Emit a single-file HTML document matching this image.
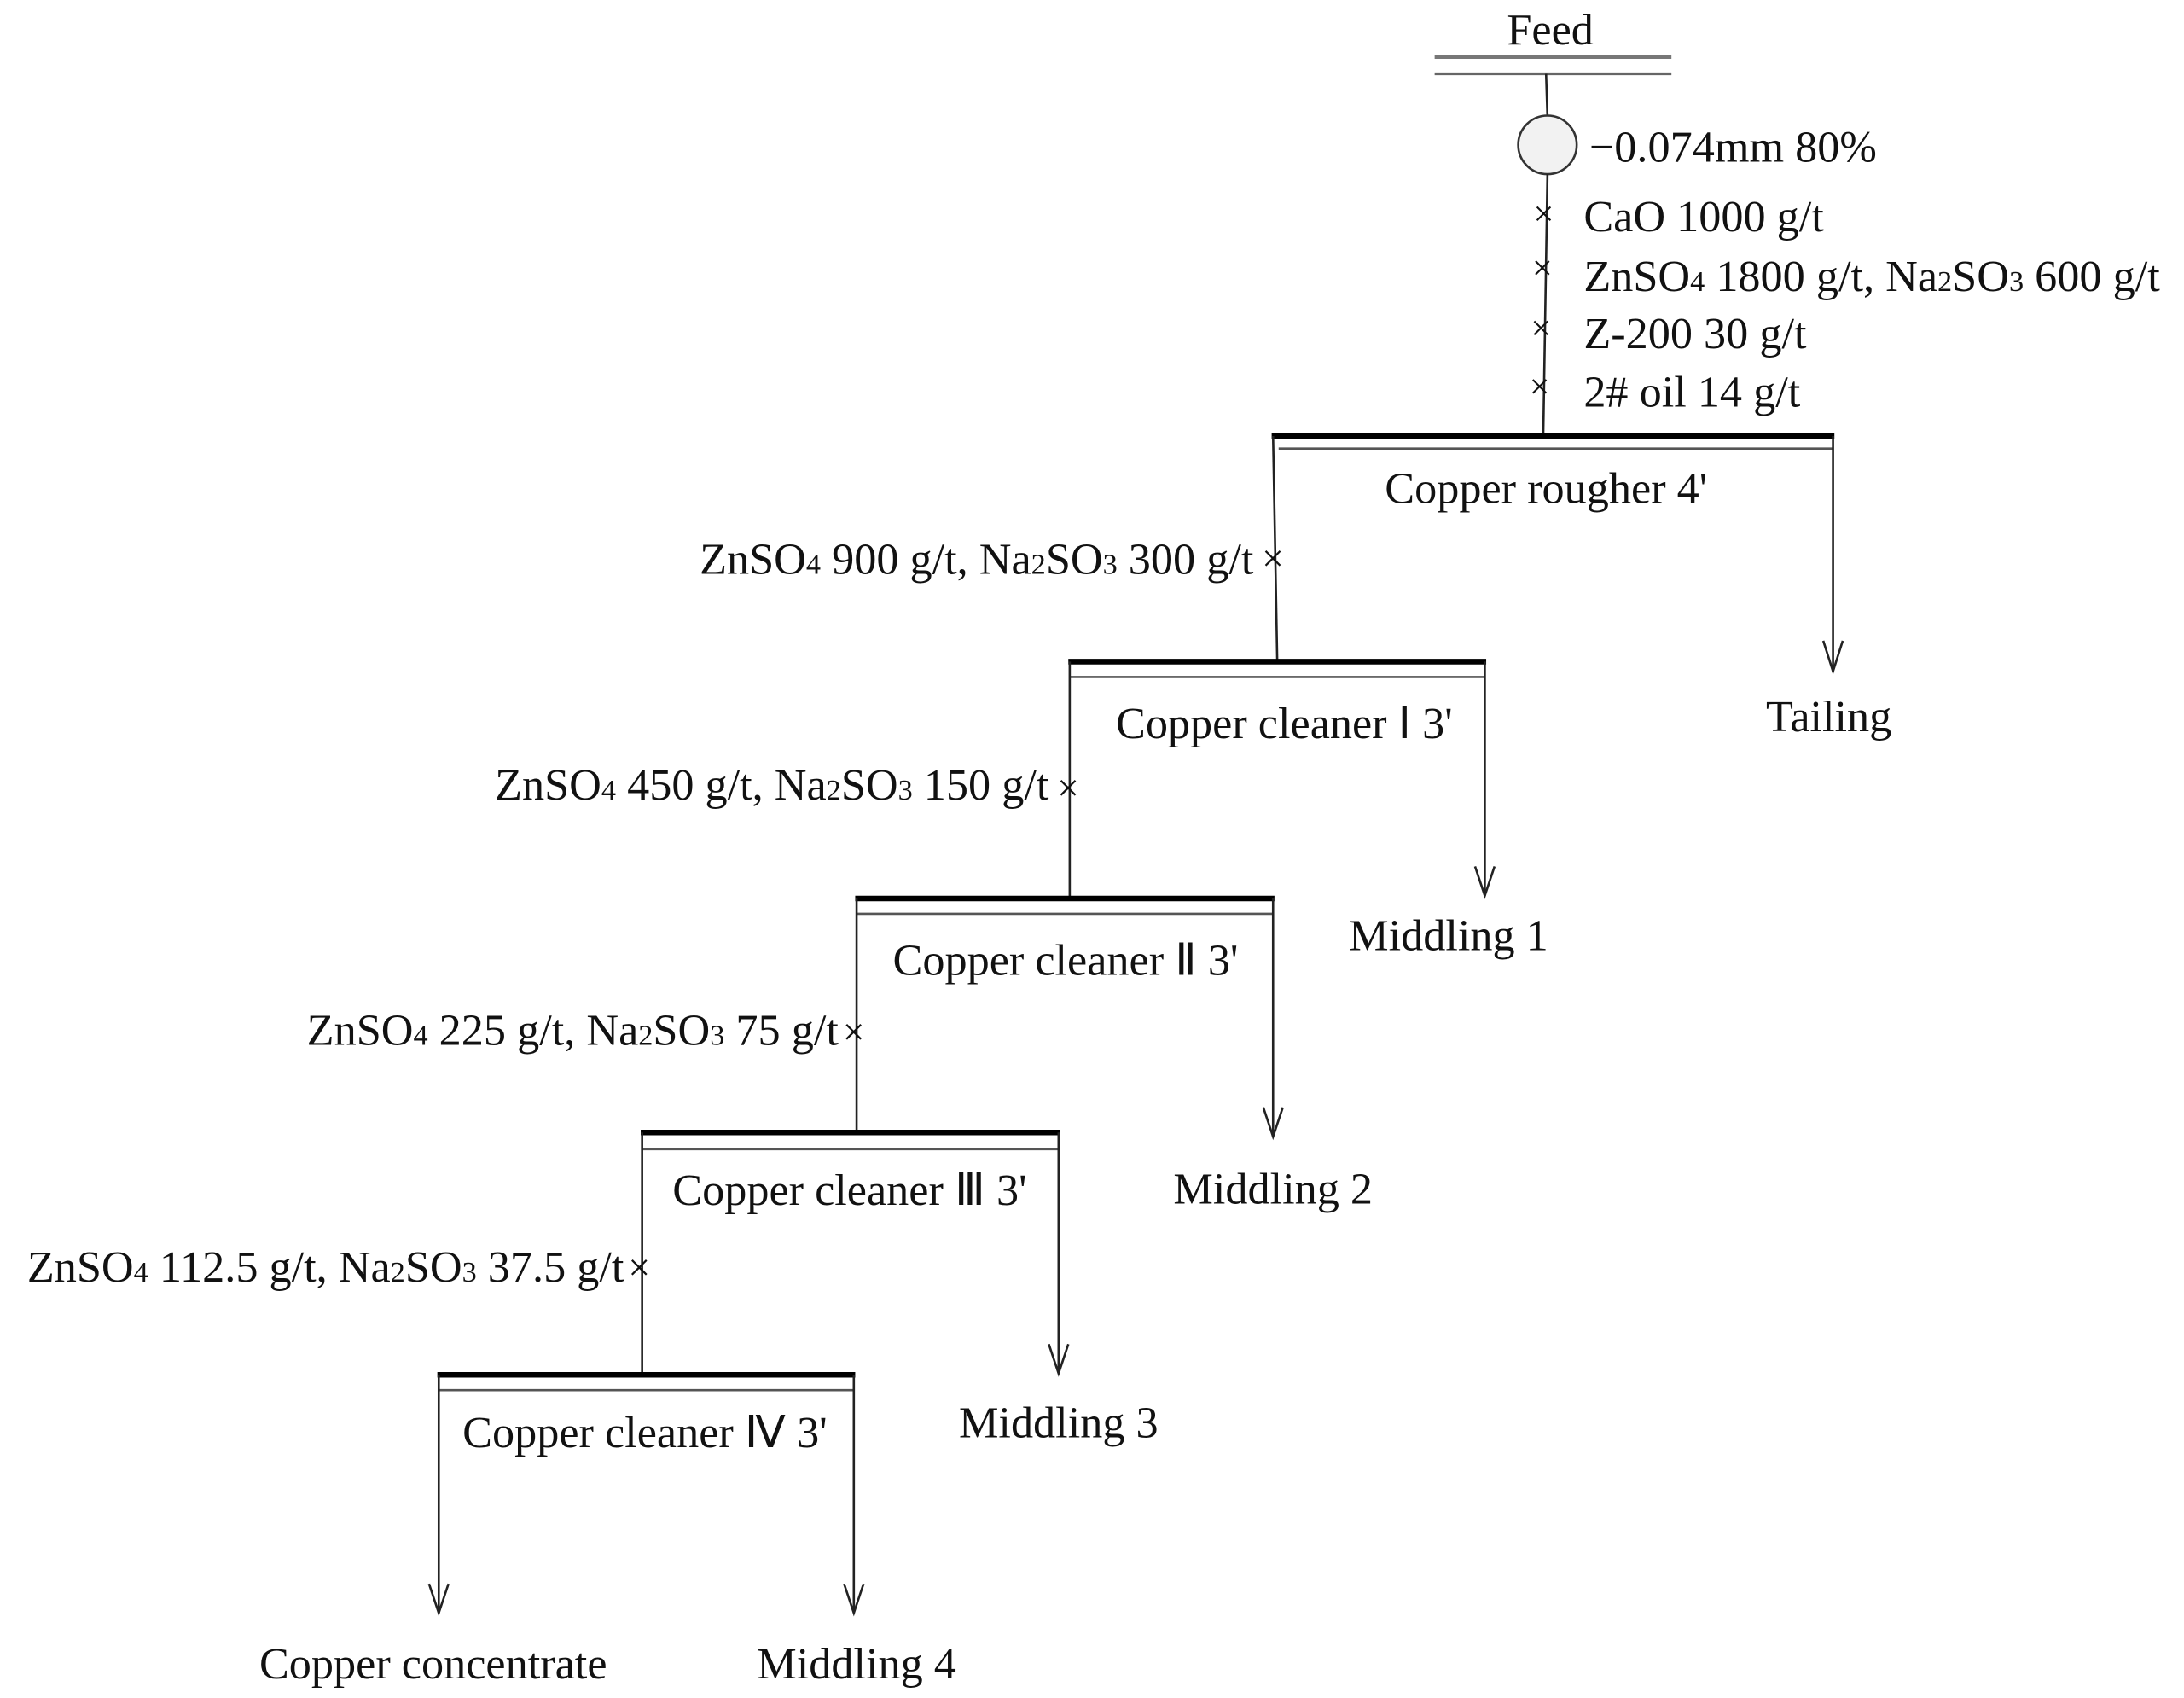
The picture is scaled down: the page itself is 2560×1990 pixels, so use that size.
<!DOCTYPE html>
<html><head><meta charset="utf-8"><style>
html,body{margin:0;padding:0;background:#fff;}
svg{display:block;}
text{font-family:"Liberation Serif",serif;font-size:32px;fill:#111;}
.s{font-size:21px;}
</style></head><body>
<svg width="2560" height="1990" viewBox="0 0 1568 1219" preserveAspectRatio="none" xmlns="http://www.w3.org/2000/svg">
<g stroke="#222" fill="none" stroke-width="1.6">
<line x1="1030" y1="41" x2="1200" y2="41" stroke="#777" stroke-width="2.5"/>
<line x1="1030" y1="53" x2="1200" y2="53" stroke="#666" stroke-width="2"/>
<line x1="1110" y1="53" x2="1111" y2="84"/>
<ellipse cx="1111" cy="104" rx="21" ry="21" fill="#f2f2f2" stroke="#333"/>
<line x1="1111" y1="125" x2="1108" y2="312"/>
<line x1="913" y1="313" x2="1317" y2="313" stroke="#000" stroke-width="4"/>
<line x1="918" y1="322" x2="1316" y2="322" stroke="#555"/>
<line x1="914" y1="313" x2="917" y2="475"/>
<line x1="1316" y1="313" x2="1316" y2="482"/>
<polyline points="1309,460 1316,482 1323,460"/>
<line x1="767" y1="475" x2="1067" y2="475" stroke="#000" stroke-width="4"/>
<line x1="768" y1="486" x2="1066" y2="486" stroke="#555"/>
<line x1="768" y1="475" x2="768" y2="645"/>
<line x1="1066" y1="475" x2="1066" y2="643"/>
<polyline points="1059,622 1066,643 1073,622"/>
<line x1="614" y1="645" x2="915" y2="645" stroke="#000" stroke-width="4"/>
<line x1="615" y1="656" x2="914" y2="656" stroke="#555"/>
<line x1="615" y1="645" x2="615" y2="813"/>
<line x1="914" y1="645" x2="914" y2="816"/>
<polyline points="907,795 914,816 921,795"/>
<line x1="460" y1="813" x2="761" y2="813" stroke="#000" stroke-width="4"/>
<line x1="461" y1="825" x2="760" y2="825" stroke="#555"/>
<line x1="461" y1="813" x2="461" y2="986"/>
<line x1="760" y1="813" x2="760" y2="986"/>
<polyline points="753,965 760,986 767,965"/>
<line x1="314" y1="987" x2="614" y2="987" stroke="#000" stroke-width="4"/>
<line x1="315" y1="998" x2="613" y2="998" stroke="#555"/>
<line x1="315" y1="987" x2="315" y2="1158"/>
<line x1="613" y1="987" x2="613" y2="1158"/>
<polyline points="308,1137 315,1158 322,1137"/>
<polyline points="606,1137 613,1158 620,1137"/>
</g>
<text x="1101" y="162" style="font-size:26px">×</text>
<text x="1100" y="201" style="font-size:26px">×</text>
<text x="1099" y="244" style="font-size:26px">×</text>
<text x="1098" y="286" style="font-size:26px">×</text>
<text x="906" y="410" style="font-size:28px">×</text>
<text x="759" y="575" style="font-size:28px">×</text>
<text x="605" y="750" style="font-size:28px">×</text>
<text x="451" y="919" style="font-size:28px">×</text>
<text x="1113" y="32" text-anchor="middle">Feed</text>
<text x="1141" y="116">−0.074mm 80%</text>
<text x="1137" y="166">CaO 1000 g/t</text>
<text x="1137" y="209">ZnSO<tspan class="s">4</tspan> 1800 g/t, Na<tspan class="s">2</tspan>SO<tspan class="s">3</tspan> 600 g/t</text>
<text x="1137" y="250">Z-200 30 g/t</text>
<text x="1137" y="292">2# oil 14 g/t</text>
<text x="1110" y="361" text-anchor="middle">Copper rougher  4'</text>
<text x="900" y="412" text-anchor="end">ZnSO<tspan class="s">4</tspan> 900 g/t, Na<tspan class="s">2</tspan>SO<tspan class="s">3</tspan> 300 g/t</text>
<text x="1313" y="525" text-anchor="middle">Tailing</text>
<text x="922" y="530" text-anchor="middle">Copper cleaner Ⅰ 3'</text>
<text x="753" y="574" text-anchor="end">ZnSO<tspan class="s">4</tspan> 450 g/t, Na<tspan class="s">2</tspan>SO<tspan class="s">3</tspan> 150 g/t</text>
<text x="1040" y="682" text-anchor="middle">Middling 1</text>
<text x="765" y="700" text-anchor="middle">Copper cleaner Ⅱ 3'</text>
<text x="602" y="750" text-anchor="end">ZnSO<tspan class="s">4</tspan> 225 g/t, Na<tspan class="s">2</tspan>SO<tspan class="s">3</tspan> 75 g/t</text>
<text x="914" y="864" text-anchor="middle">Middling 2</text>
<text x="610" y="865" text-anchor="middle">Copper cleaner Ⅲ 3'</text>
<text x="448" y="920" text-anchor="end">ZnSO<tspan class="s">4</tspan> 112.5 g/t, Na<tspan class="s">2</tspan>SO<tspan class="s">3</tspan> 37.5 g/t</text>
<text x="760" y="1032" text-anchor="middle">Middling 3</text>
<text x="463" y="1039" text-anchor="middle">Copper cleaner Ⅳ 3'</text>
<text x="311" y="1205" text-anchor="middle">Copper concentrate</text>
<text x="615" y="1205" text-anchor="middle">Middling 4</text>
</svg>
</body></html>
